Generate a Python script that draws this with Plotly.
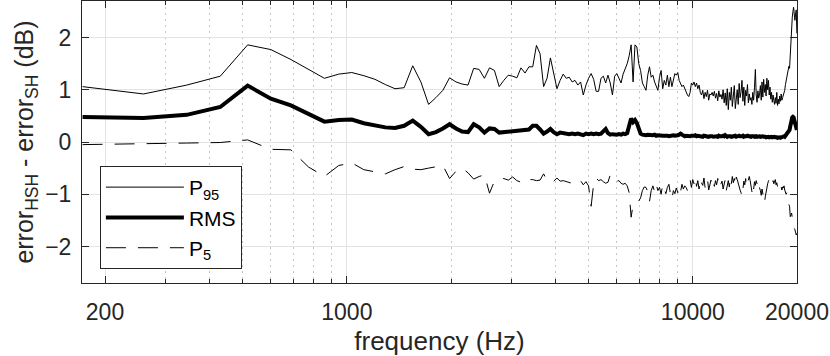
import numpy as np
import plotly.graph_objects as go

# FFT bin indices (fs = 44100 Hz, N = 512 -> 86.13 Hz per bin)
bins = list(range(2, 233))
bin_width_hz = 44100 / 512
freq = [k * bin_width_hz for k in bins]

p95 = [
    1.06, 0.92, 1.09, 1.26, 1.86, 1.77, 1.58, 1.39, 1.22,
    1.30, 1.33, 1.27, 1.20, 1.10, 1.02, 1.04, 1.46, 1.15, 0.72,
    0.85, 0.99, 1.23, 1.15, 1.11, 1.09, 1.41, 1.39, 1.22, 1.42,
    1.37, 1.06, 1.18, 1.28, 1.26, 1.23, 1.42, 1.32, 1.44, 1.44,
    1.85, 1.69, 1.06, 1.22, 1.61, 1.31, 1.02, 1.18, 1.30, 1.22,
    1.24, 1.15, 1.18, 1.09, 1.15, 0.90, 1.09, 1.22, 1.31, 1.20,
    0.97, 0.97, 1.22, 1.26, 1.13, 1.28, 1.13, 0.90, 1.26, 1.31,
    1.22, 1.13, 1.30, 1.40, 1.50, 1.65, 1.86, 1.15, 1.86, 1.82,
    1.50, 1.37, 1.13, 1.06, 0.99, 1.28, 1.44, 1.24, 1.28, 1.15,
    1.06, 0.99, 1.24, 1.37, 1.02, 1.18, 1.09, 1.28, 1.06, 1.24,
    1.06, 1.22, 1.31, 1.28, 1.33, 1.18, 1.13, 1.06, 1.09, 1.02,
    0.95, 0.90, 0.87, 0.95, 1.13, 1.09, 1.15, 1.06, 1.13, 1.02,
    1.09, 0.95, 0.90, 0.99, 0.83, 0.95, 0.87, 0.99, 0.80, 0.92,
    0.90, 0.95, 0.88, 0.97, 0.84, 0.93, 0.79, 0.98, 0.86, 0.91,
    0.82, 1.00, 0.75, 0.94, 0.70, 1.02, 0.62, 0.95, 0.80, 1.05,
    0.68, 0.98, 1.08, 0.64, 0.90, 1.00, 0.72, 1.12, 0.85, 0.96,
    1.18, 0.78, 1.05, 0.70, 0.99, 0.88, 1.10, 0.75, 0.92, 0.80,
    0.85, 0.72, 0.95, 0.80, 1.05, 1.39, 0.90, 0.76, 0.98, 0.84,
    0.92, 1.08, 0.80, 1.15, 0.86, 1.20, 0.95, 1.10, 0.88, 1.22,
    1.00, 1.18, 0.90, 1.05, 0.82, 0.95, 0.76, 0.90, 0.80, 0.72,
    0.85, 0.74, 0.95, 0.70, 0.82, 0.73, 0.88, 0.78, 0.92, 0.80,
    0.85, 0.90, 0.95, 0.99, 1.10, 1.18, 1.22, 1.35, 1.44, 1.45,
    1.41, 1.75, 2.07, 2.25, 2.39, 2.50, 2.58, 2.45, 2.33, 2.45,
    2.53, 2.08,
]

rms = [
    0.48, 0.46, 0.52, 0.67, 1.08, 0.83, 0.70, 0.54, 0.39,
    0.42, 0.43, 0.36, 0.32, 0.28, 0.27, 0.31, 0.41, 0.29, 0.15,
    0.19, 0.26, 0.34, 0.26, 0.20, 0.19, 0.34, 0.28, 0.18, 0.26,
    0.25, 0.18, 0.19, 0.19, 0.20, 0.20, 0.21, 0.22, 0.24, 0.31,
    0.31, 0.24, 0.16, 0.20, 0.25, 0.19, 0.15, 0.18, 0.17, 0.16,
    0.15, 0.16, 0.15, 0.16, 0.15, 0.13, 0.16, 0.15, 0.16, 0.15,
    0.16, 0.15, 0.16, 0.20, 0.25, 0.17, 0.14, 0.15, 0.14, 0.14,
    0.15, 0.14, 0.16, 0.15, 0.17, 0.30, 0.45, 0.38, 0.42, 0.36,
    0.25, 0.16, 0.14, 0.13, 0.13, 0.14, 0.13, 0.12, 0.13, 0.14,
    0.12, 0.13, 0.12, 0.13, 0.12, 0.12, 0.13, 0.12, 0.11, 0.12,
    0.12, 0.13, 0.12, 0.12, 0.13, 0.14, 0.16, 0.14, 0.12, 0.11,
    0.12, 0.11, 0.12, 0.11, 0.12, 0.11, 0.12, 0.13, 0.11, 0.12,
    0.11, 0.12, 0.11, 0.10, 0.12, 0.11, 0.12, 0.11, 0.10, 0.11,
    0.12, 0.11, 0.10, 0.11, 0.12, 0.11, 0.10, 0.12, 0.11, 0.10,
    0.11, 0.12, 0.11, 0.13, 0.11, 0.10, 0.11, 0.12, 0.11, 0.10,
    0.11, 0.10, 0.11, 0.12, 0.10, 0.11, 0.10, 0.12, 0.11, 0.10,
    0.11, 0.12, 0.10, 0.11, 0.10, 0.11, 0.12, 0.11, 0.10, 0.11,
    0.10, 0.11, 0.12, 0.11, 0.10, 0.12, 0.11, 0.10, 0.11, 0.10,
    0.11, 0.10, 0.11, 0.12, 0.11, 0.10, 0.11, 0.10, 0.09, 0.10,
    0.11, 0.10, 0.09, 0.10, 0.11, 0.10, 0.09, 0.10, 0.09, 0.10,
    0.09, 0.10, 0.09, 0.08, 0.09, 0.10, 0.09, 0.08, 0.09, 0.10,
    0.09, 0.10, 0.11, 0.10, 0.12, 0.11, 0.13, 0.15, 0.17, 0.20,
    0.23, 0.30, 0.38, 0.45, 0.47, 0.48, 0.47, 0.42, 0.36, 0.30,
    0.26, 0.23,
]

p5 = [
    -0.05, -0.04, -0.02, -0.01, 0.04, -0.14, -0.15, -0.48, -0.66,
    -0.45, -0.40, -0.53, -0.57, -0.61, -0.53, -0.47, -0.52, -0.53, -0.50,
    -0.47, -0.45, -0.70, -0.56, -0.50, -0.59, -0.71, -0.66, -0.63, -0.98,
    -0.75, -0.71, -0.70, -0.73, -0.67, -0.74, -0.77, -0.79, -0.72, -0.72,
    -0.74, -0.73, -0.61, -0.73, -0.70, -0.75, -0.69, -0.75, -0.74, -0.76,
    -0.78, -0.79, -0.81, -0.79, -0.74, -0.82, -0.76, -0.84, -1.23, -0.80,
    -0.69, -0.74, -0.72, -0.76, -0.79, -0.77, -0.63, -0.62, -0.68, -0.75,
    -0.74, -0.79, -0.81, -0.79, -0.84, -0.97, -1.44, -1.20, -1.18, -1.16,
    -1.13, -1.07, -0.93, -0.86, -0.87, -0.95, -1.14, -0.93, -0.84, -0.95,
    -0.81, -0.93, -0.87, -1.00, -0.81, -0.90, -0.99, -0.87, -0.81, -0.99,
    -1.10, -0.93, -0.99, -0.88, -0.97, -0.85, -0.95, -0.81, -0.90, -0.84,
    -0.87, -0.93, -0.84, -0.72, -0.87, -0.72, -0.80, -0.68, -0.85, -0.74,
    -0.90, -0.70, -0.78, -0.83, -0.69, -0.88, -0.76, -0.71, -0.92, -0.80,
    -0.73, -0.86, -0.78, -0.85, -0.74, -0.82, -0.70, -0.76, -0.88, -0.80,
    -0.75, -0.90, -0.82, -0.72, -0.93, -0.79, -0.74, -0.86, -0.68, -0.80,
    -0.66, -0.78, -0.70, -0.84, -0.67, -0.72, -0.80, -0.88, -0.92, -0.97,
    -1.05, -0.90, -0.75, -0.82, -0.70, -0.86, -0.78, -0.72, -0.66, -0.74,
    -0.88, -0.95, -0.80, -0.90, -0.76, -0.83, -0.74, -0.80, -0.72, -0.85,
    -0.88, -0.93, -1.02, -0.90, -0.98, -1.10, -1.17, -1.05, -0.95, -0.88,
    -0.80, -0.75, -0.70, -0.68, -0.72, -0.70, -0.78, -0.74, -0.80, -0.77,
    -0.72, -0.82, -0.78, -0.86, -0.80, -0.76, -0.84, -0.85, -0.86, -0.92,
    -0.86, -0.88, -0.84, -0.92, -0.95, -1.00, -0.97, -1.05, -1.17, -1.20,
    -1.23, -1.43, -1.40, -1.36, -1.45, -1.55, -1.60, -1.65, -1.68, -1.72,
    -1.78, -1.75,
]

assert len(p95) == len(freq) == len(rms) == len(p5), (len(freq), len(p95), len(rms), len(p5))

x_tickvals = [200, 1000, 10000, 20000]
x_ticktext = ["200", "1000", "10000", "20000"]
x_minor = [300, 400, 500, 600, 700, 800, 900,
           2000, 3000, 4000, 5000, 6000, 7000, 8000, 9000]
y_tickvals = [-2, -1, 0, 1, 2]

FONT = "Liberation Sans, Arial, Helvetica, sans-serif"
AX = "#262626"

fig = go.Figure()
fig.add_trace(go.Scatter(x=freq, y=p95, mode="lines", name="P<sub>95</sub>",
                         line=dict(color="black", width=1)))
fig.add_trace(go.Scatter(x=freq, y=rms, mode="lines", name="RMS",
                         line=dict(color="black", width=4)))
fig.add_trace(go.Scatter(x=freq, y=p5, mode="lines", name="P<sub>5</sub>",
                         line=dict(color="black", width=1, dash="20px,12px")))

fig.update_layout(
    width=830, height=356,
    margin=dict(l=82, r=33, t=1, b=73, autoexpand=False),
    paper_bgcolor="white", plot_bgcolor="white",
    font=dict(family=FONT, size=22, color=AX),
    showlegend=True,
    legend=dict(x=0.025, y=0.415, xanchor="left", yanchor="top",
                bgcolor="white", bordercolor=AX, borderwidth=1,
                font=dict(family=FONT, size=21, color="black"),
                itemwidth=78, tracegroupgap=0),
    xaxis=dict(
        type="log", range=[np.log10(171.6), np.log10(20000)],
        tickmode="array", tickvals=x_tickvals, ticktext=x_ticktext,
        ticks="inside", ticklen=7, tickcolor=AX, tickwidth=1,
        showline=True, linecolor=AX, linewidth=1, mirror="allticks",
        showgrid=True, gridcolor="#e3e3e3", gridwidth=1,
        minor=dict(tickmode="array", tickvals=x_minor, ticks="inside", ticklen=4,
                   tickcolor=AX, showgrid=True, gridcolor="#c4c4c4",
                   griddash="2px,4px", gridwidth=1),
        tickfont=dict(family=FONT, size=23, color=AX),
        ticklabelstandoff=8,
        automargin=False,
        title=dict(text="frequency (Hz)", font=dict(family=FONT, size=26, color=AX), standoff=8),
        zeroline=False,
    ),
    yaxis=dict(
        range=[-2.7, 2.7], tickmode="array", tickvals=y_tickvals,
        ticks="inside", ticklen=7, tickcolor=AX, tickwidth=1,
        showline=True, linecolor=AX, linewidth=1, mirror="allticks",
        showgrid=True, gridcolor="#e3e3e3", gridwidth=1,
        zeroline=False,
        automargin=False,
        ticklabelstandoff=5,
        tickfont=dict(family=FONT, size=23, color=AX),
        title=dict(text="error<sub>HSH</sub> - error<sub>SH</sub> (dB)",
                   font=dict(family=FONT, size=25, color=AX), standoff=4),
    ),
)

fig.write_html(
    "out.html",
    config={"displayModeBar": False},
    post_script="document.body.style.margin='0';document.body.style.padding='0';"
                "window.dispatchEvent(new Event('resize'));",
)
